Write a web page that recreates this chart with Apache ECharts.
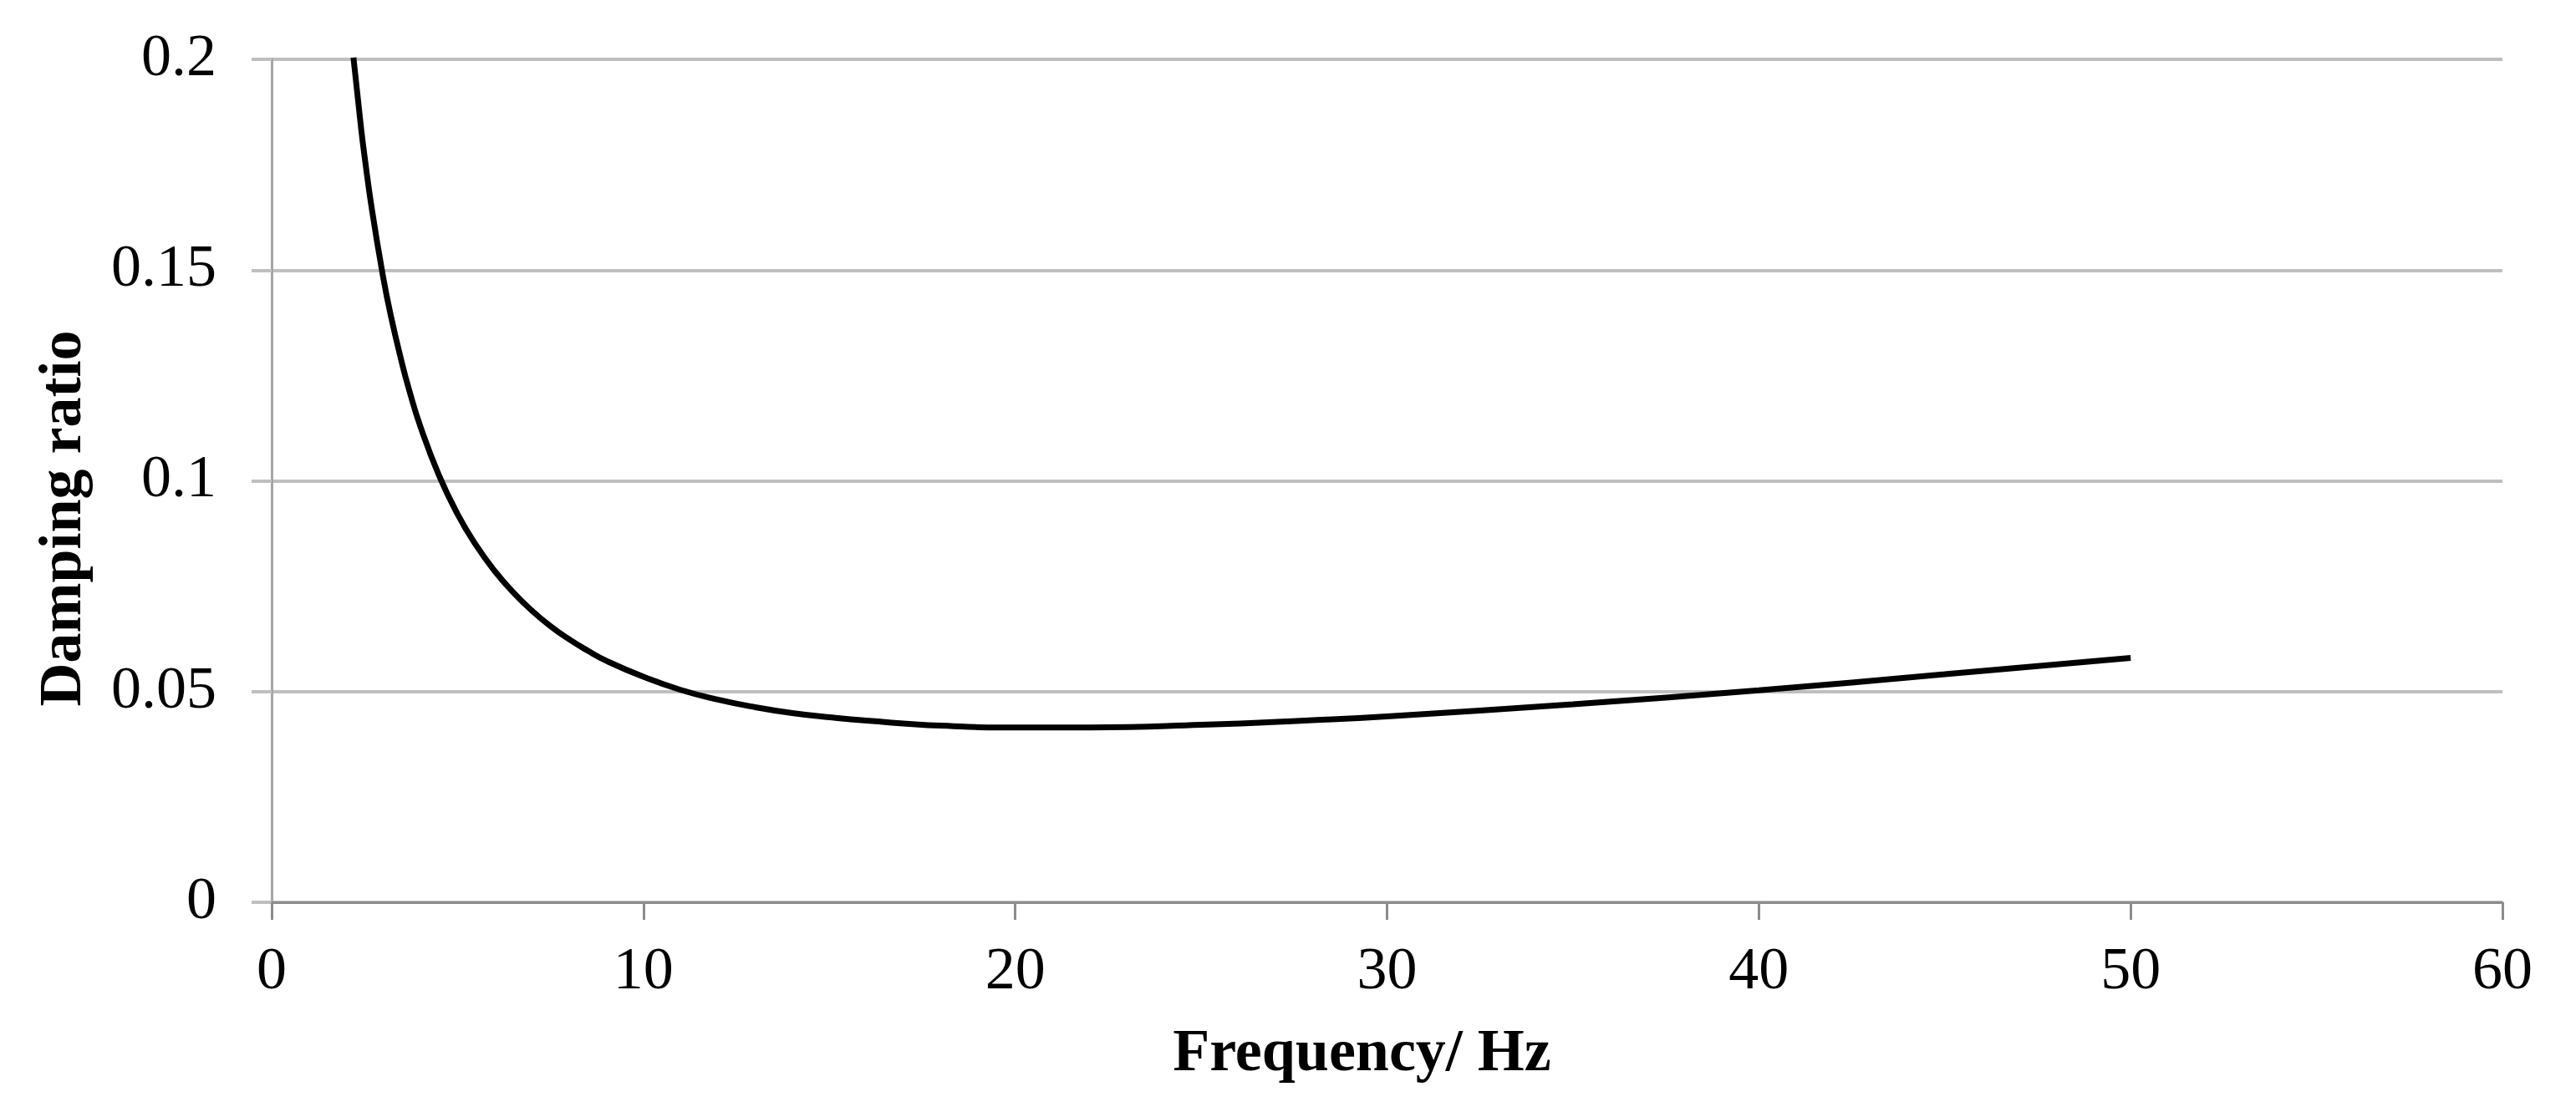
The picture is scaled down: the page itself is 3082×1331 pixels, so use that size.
<!DOCTYPE html>
<html>
<head>
<meta charset="utf-8">
<script src="https://cdn.jsdelivr.net/npm/echarts@6/dist/echarts.min.js"></script>
<style>
  html, body { margin: 0; padding: 0; background: #fff; }
  #chart { width: 3082px; height: 1331px; }
</style>
</head>
<body>
<div id="chart"></div>
<script>
// frequency (Hz) and damping ratio
let freq = [2.2, 2.4, 2.5, 2.7, 3, 3.2, 3.5, 3.7, 4, 4.5, 5, 5.5, 6, 6.5, 7, 7.5, 8, 8.5, 9, 10, 11, 12, 13, 14, 15, 16, 18, 20, 22, 25, 28, 30, 35, 40, 45, 50];
let damping = [0.2004, 0.1841, 0.1769, 0.1642, 0.1483, 0.1394, 0.1281, 0.1215, 0.1129, 0.1013, 0.0921, 0.0847, 0.0786, 0.0735, 0.0692, 0.0655, 0.0624, 0.0597, 0.0573, 0.0535, 0.0504, 0.0481, 0.0463, 0.0449, 0.0439, 0.0431, 0.0419, 0.0415, 0.0415, 0.0421, 0.0432, 0.0441, 0.0470, 0.0503, 0.0541, 0.0580];
let xTicks = [0, 10, 20, 30, 40, 50, 60];
let yTicks = [0, 0.05, 0.1, 0.15, 0.2];

let font = "'Liberation Serif', 'Times New Roman', serif";
let chart = echarts.init(document.getElementById("chart"));

let opt = {
  backgroundColor: "#fff",
  animation: false,
  grid: { left: 325, right: 88, top: 71, bottom: 251 },
  xAxis: {
    type: "value",
    min: xTicks[0],
    max: xTicks[xTicks.length - 1],
    interval: 10,
    name: "Frequency/ Hz",
    nameLocation: "middle",
    nameGap: 146,
    nameTextStyle: { fontFamily: font, fontWeight: "bold", fontSize: 72, color: "#000", padding: [0, 60, 0, 0] },
    axisLine: { lineStyle: { color: "#8c8c8c", width: 3 } },
    axisTick: { show: true, length: 21, lineStyle: { color: "#8c8c8c", width: 3 } },
    axisLabel: { fontFamily: font, fontSize: 72, color: "#000", margin: 48 },
    splitLine: { show: false }
  },
  yAxis: {
    type: "value",
    min: yTicks[0],
    max: yTicks[yTicks.length - 1],
    interval: 0.05,
    name: "Damping ratio",
    nameLocation: "middle",
    nameGap: 212,
    nameTextStyle: { fontFamily: font, fontWeight: "bold", fontSize: 72, color: "#000", padding: [0, 90, 0, 0] },
    axisLine: { show: true, lineStyle: { color: "#a6a6a6", width: 3 } },
    axisTick: { show: true, length: 24, lineStyle: { color: "#bfbfbf", width: 4 } },
    axisLabel: { fontFamily: font, fontSize: 72, color: "#000", margin: 66 },
    splitLine: { show: true, lineStyle: { color: "#bfbfbf", width: 4 } }
  },
  series: [{
    type: "line",
    data: freq.map((f, i) => [f, damping[i]]),
    smooth: true,
    showSymbol: false,
    lineStyle: { color: "#000", width: 7 },
    clip: true
  }]
};
chart.setOption(opt);
</script>
</body>
</html>
